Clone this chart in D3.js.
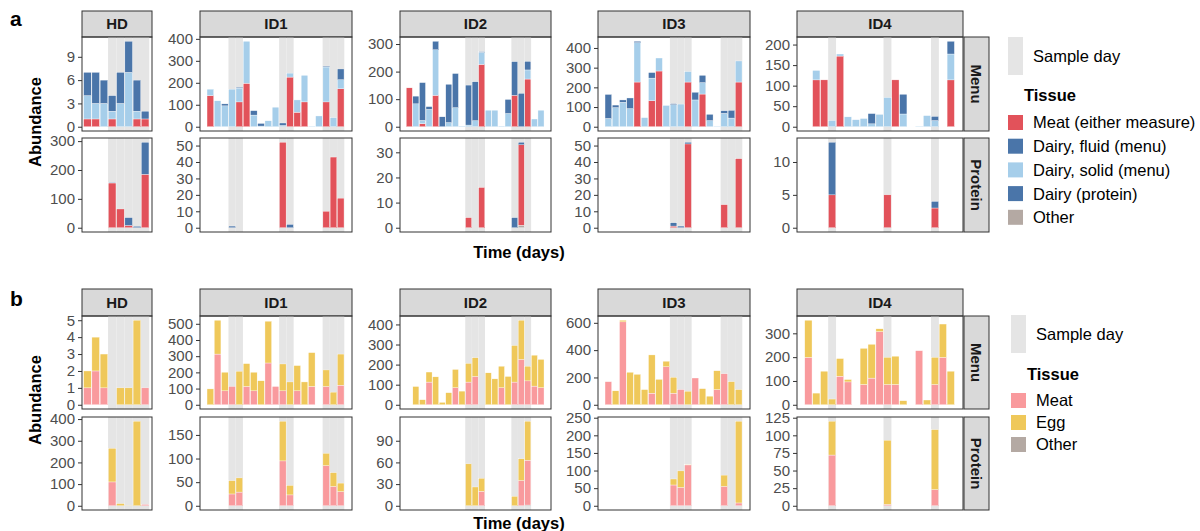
<!DOCTYPE html>
<html>
<head>
<meta charset="utf-8">
<script src="https://cdn.jsdelivr.net/npm/d3@7"></script>
<style>
  body { margin: 0; background: #fff; }
  svg { font-family: "Liberation Sans", Arial, Helvetica, sans-serif; }
</style>
</head>
<body>
<div id="chart"></div>
<script>
// ---- données ----
const panelNames = ["HD", "ID1", "ID2", "ID3", "ID4"];
const dayCount = [8, 19, 21, 19, 19];
const sampleDays = [
  [4, 5, 6, 7, 8],
  [4, 5, 11, 12, 17, 18, 19],
  [10, 11, 12, 17, 18, 19],
  [10, 11, 12, 17, 18, 19],
  [4, 11, 17]
];

// figure a : menu
const aMenuMeat = [
  [1, 1, 0, 1, 0, 0, 1, 1],
  [142, 0, 0, 0, 113, 198, 0, 0, 0, 0, 0, 226, 66, 113, 0, 0, 113, 0, 173],
  [141, 0, 11, 0, 114, 0, 0, 0, 0, 0, 0, 226, 0, 0, 0, 0, 114, 0, 173, 0, 0],
  [0, 0, 0, 0, 227, 0, 132, 283, 0, 0, 0, 227, 0, 166, 0, 0, 0, 0, 227],
  [0, 114, 114, 0, 172, 0, 0, 0, 0, 0, 0, 114, 0, 0, 0, 0, 0, 0, 114]
];
const aMenuSolid = [
  [3, 2, 3, 1, 3, 7, 1, 0],
  [29, 118, 95, 171, 63, 191, 53, 3, 27, 89, 6, 18, 56, 121, 2, 49, 159, 41, 41],
  [0, 83, 12, 63, 165, 0, 15, 69, 2, 6, 22, 44, 60, 60, 2, 48, 0, 0, 33, 28, 60],
  [42, 97, 124, 92, 200, 46, 115, 66, 108, 112, 115, 53, 136, 58, 31, 2, 68, 44, 107],
  [0, 23, 0, 15, 5, 24, 17, 20, 7, 30, 71, 0, 31, 0, 1, 27, 15, 0, 63]
];
const aMenuFluid = [
  [3, 4, 3, 2, 4, 4, 4, 1],
  [0, 0, 9, 0, 4, 0, 20, 12, 0, 0, 11, 0, 0, 0, 0, 0, 4, 0, 49],
  [0, 28, 137, 10, 31, 36, 139, 124, 0, 145, 141, 2, 0, 0, 0, 51, 122, 121, 31, 0, 0],
  [122, 13, 12, 54, 7, 0, 28, 0, 0, 5, 0, 0, 39, 37, 32, 0, 13, 39, 0],
  [0, 0, 0, 0, 0, 0, 0, 0, 25, 0, 0, 0, 48, 0, 0, 0, 10, 0, 31]
];
// figure a : protéine
const aProtOther = [
  [0, 0, 0, 0, 0, 0, 0, 0],
  [0, 0, 0, 0, 0, 0, 0, 0, 0, 0, 0, 0, 0, 0, 0, 0, 0, 0, 0],
  [0, 0, 0, 0, 0, 0, 0, 0, 0, 0, 0, 0, 0, 0, 0, 0, 0, 1, 0, 0, 0],
  [0, 0, 0, 0, 0, 0, 0, 0, 0, 0, 0, 0, 0, 0, 0, 0, 0, 0, 0],
  [0, 0, 0, 0, 0, 0, 0, 0, 0, 0, 0, 0, 0, 0, 0, 0, 0, 0, 0]
];
const aProtMeat = [
  [0, 0, 0, 155, 65, 8, 0, 185],
  [0, 0, 0, 0, 0, 0, 0, 0, 0, 0, 52, 0, 0, 0, 0, 0, 10, 43, 18],
  [0, 0, 0, 0, 0, 0, 0, 0, 0, 4, 0, 16, 0, 0, 0, 0, 0, 32, 0, 0, 0],
  [0, 0, 0, 0, 0, 0, 0, 0, 0, 1, 0, 51, 0, 0, 0, 0, 14, 0, 42],
  [0, 0, 0, 5, 0, 0, 0, 0, 0, 0, 5, 0, 0, 0, 0, 0, 3, 0, 0]
];
const aProtDairy = [
  [0, 0, 0, 2, 0, 27, 5, 111],
  [0, 0, 0, 1, 0, 0, 0, 0, 0, 0, 0, 2, 0, 0, 0, 0, 0, 0, 0],
  [0, 0, 0, 0, 0, 0, 0, 0, 0, 0, 0, 0, 0, 0, 0, 0, 4, 1, 0, 0, 0],
  [0, 0, 0, 0, 0, 0, 0, 0, 0, 2, 1, 1, 0, 0, 0, 0, 0, 0, 0],
  [0, 0, 0, 8, 0, 0, 0, 0, 0, 0, 0, 0, 0, 0, 0, 0, 1, 0, 0]
];

// figure b : menu
const bMenuMeat = [
  [1, 2, 1, 0, 0, 0, 0, 1],
  [0, 313, 86, 113, 0, 113, 86, 0, 258, 113, 86, 0, 86, 0, 113, 0, 113, 0, 121],
  [0, 0, 0, 113, 0, 0, 0, 85, 0, 113, 141, 0, 0, 0, 85, 0, 113, 226, 119, 93, 85],
  [169, 0, 607, 0, 0, 0, 85, 0, 278, 85, 111, 0, 196, 0, 0, 111, 227, 0, 0],
  [199, 0, 0, 0, 120, 96, 0, 85, 112, 307, 85, 85, 0, 0, 227, 0, 85, 199, 0]
];
const bMenuEgg = [
  [1, 2, 2, 0, 1, 1, 5, 0],
  [98, 209, 115, 0, 207, 141, 115, 148, 258, 0, 166, 141, 156, 141, 209, 0, 102, 78, 192],
  [0, 91, 25, 50, 139, 12, 60, 91, 68, 93, 93, 0, 159, 129, 107, 141, 182, 195, 73, 154, 141],
  [0, 102, 12, 238, 223, 111, 280, 186, 41, 116, 0, 99, 0, 118, 63, 138, 0, 169, 111],
  [156, 49, 141, 24, 74, 10, 0, 152, 142, 12, 114, 119, 17, 0, 0, 20, 114, 140, 141]
];
// figure b : protéine
const bProtOther = [
  [0, 0, 0, 0, 0, 0, 0, 0],
  [0, 0, 0, 0, 0, 0, 0, 0, 0, 0, 0, 0, 0, 0, 0, 0, 0, 0, 0],
  [0, 0, 0, 0, 0, 0, 0, 0, 0, 0, 0, 0, 0, 0, 0, 0, 0, 0, 1, 0, 0],
  [0, 0, 0, 0, 0, 0, 0, 0, 0, 0, 0, 0, 0, 0, 0, 0, 0, 0, 0],
  [0, 0, 0, 0, 0, 0, 0, 0, 0, 0, 0, 0, 0, 0, 0, 0, 0, 0, 0]
];
const bProtMeat = [
  [0, 0, 0, 110, 0, 0, 0, 6],
  [0, 0, 0, 25, 29, 0, 0, 0, 0, 0, 95, 23, 0, 0, 0, 0, 85, 41, 30],
  [0, 0, 0, 0, 0, 0, 0, 0, 0, 0, 0, 20, 0, 0, 0, 0, 0, 35, 62, 0, 0],
  [0, 0, 0, 0, 0, 0, 0, 0, 0, 59, 52, 116, 0, 0, 0, 0, 55, 0, 8],
  [0, 0, 0, 72, 0, 0, 0, 0, 0, 0, 2, 0, 0, 0, 0, 0, 23, 0, 0]
];
const bProtEgg = [
  [0, 0, 0, 155, 10, 1, 390, 0],
  [0, 0, 0, 28, 30, 0, 0, 0, 0, 0, 84, 20, 0, 0, 0, 0, 26, 29, 18],
  [0, 0, 0, 0, 0, 0, 0, 0, 0, 58, 26, 18, 0, 0, 0, 0, 13, 30, 54, 0, 0],
  [0, 0, 0, 0, 0, 0, 0, 0, 0, 17, 47, 1, 0, 0, 0, 0, 32, 0, 232],
  [0, 0, 0, 48, 0, 0, 0, 0, 0, 0, 91, 0, 0, 0, 0, 0, 85, 0, 0]
];

// graduations
const aMenuTicks = [[0, 3, 6, 9], [0, 100, 200, 300, 400], [0, 100, 200, 300], [0, 100, 200, 300, 400], [0, 50, 100, 150, 200]];
const aProtTicks = [[0, 100, 200, 300], [0, 10, 20, 30, 40, 50], [0, 10, 20, 30], [0, 10, 20, 30, 40, 50], [0, 5, 10]];
const bMenuTicks = [[0, 1, 2, 3, 4, 5], [0, 100, 200, 300, 400, 500], [0, 100, 200, 300, 400], [0, 200, 400, 600], [0, 100, 200, 300]];
const bProtTicks = [[0, 100, 200, 300, 400], [0, 50, 100, 150], [0, 30, 60, 90], [0, 50, 100, 150, 200, 250], [0, 25, 50, 75, 100, 125]];

const tissueA = ["Meat (either measure)", "Dairy, fluid (menu)", "Dairy, solid (menu)", "Dairy (protein)", "Other"];
const tissueB = ["Meat", "Egg", "Other"];

// ---- couleurs / mise en page ----
const col = {
  meatA: "#E2525A", fluid: "#4A75A9", solid: "#A6CEEA", dairyP: "#4A75A9", other: "#B4A9A3",
  meatB: "#F99A9D", egg: "#EFC85A", shade: "#E5E5E5"
};
const colX = [[82, 152], [200, 352], [400, 551], [598, 750], [797, 963]];
const xDom = [[0.34, 8.83], [-0.43, 20.56], [-0.41, 22.52], [-0.43, 20.56], [-0.44, 20.55]];
const stripX = [964, 989];
const fmtTick = d3.format("~g");

const svg = d3.select("#chart").append("svg")
  .attr("width", 1200).attr("height", 531);

let clipId = 0;

function drawFigure(fig) {
  // étiquette a / b
  svg.append("text").attr("x", 10).attr("y", fig.labelY)
    .attr("font-size", 21).attr("font-weight", "bold").text(fig.label);

  panelNames.forEach((name, i) => {
    const x = d3.scaleLinear().domain(xDom[i]).range(colX[i]);
    const [x0, x1] = colX[i];
    const days = d3.range(1, dayCount[i] + 1);

    // bandeau du haut
    svg.append("rect").attr("x", x0).attr("y", fig.strip[0])
      .attr("width", x1 - x0).attr("height", fig.strip[1] - fig.strip[0])
      .attr("fill", "#D9D9D9").attr("stroke", "#333").attr("stroke-width", 1);
    svg.append("text").attr("x", (x0 + x1) / 2).attr("y", (fig.strip[0] + fig.strip[1]) / 2)
      .attr("dy", "0.36em").attr("text-anchor", "middle")
      .attr("font-size", 15).attr("font-weight", "bold").attr("fill", "#1A1A1A").text(name);

    fig.rows.forEach(row => {
      const table = days.map((d, j) => {
        const o = { day: d };
        row.series.forEach(s => o[s.key] = s.values[i][j]);
        return o;
      });
      const keys = row.series.map(s => s.key);
      const stacked = d3.stack().keys(keys)(table);
      const maxV = d3.max(table, o => d3.sum(keys, k => o[k]));
      const y = d3.scaleLinear().domain([-0.05 * maxV, 1.05 * maxV]).range([row.y[1], row.y[0]]);

      const id = "clip" + (clipId++);
      svg.append("clipPath").attr("id", id).append("rect")
        .attr("x", x0).attr("y", row.y[0]).attr("width", x1 - x0).attr("height", row.y[1] - row.y[0]);
      const g = svg.append("g").attr("clip-path", `url(#${id})`);

      // jours d'échantillonnage
      g.selectAll("rect.shade").data(sampleDays[i]).join("rect")
        .attr("class", "shade")
        .attr("x", d => x(d - 0.5)).attr("width", d => x(d + 0.5) - x(d - 0.5))
        .attr("y", row.y[0]).attr("height", row.y[1] - row.y[0])
        .attr("fill", col.shade);

      // barres empilées
      g.selectAll("g.layer").data(stacked).join("g")
        .attr("class", "layer")
        .attr("fill", (s, k) => row.series[k].color)
        .selectAll("rect").data(s => s.filter(v => v[1] > v[0])).join("rect")
        .attr("x", v => x(v.data.day - 0.46))
        .attr("width", v => x(v.data.day + 0.46) - x(v.data.day - 0.46))
        .attr("y", v => y(v[1]))
        .attr("height", v => y(v[0]) - y(v[1]))
        .attr("stroke", "#fff").attr("stroke-width", 0.35);

      // cadre
      svg.append("rect").attr("x", x0).attr("y", row.y[0])
        .attr("width", x1 - x0).attr("height", row.y[1] - row.y[0])
        .attr("fill", "none").attr("stroke", "#333").attr("stroke-width", 1);

      // axe y
      svg.append("g").attr("transform", `translate(${x0},0)`)
        .call(d3.axisLeft(y).tickValues(row.ticks[i]).tickFormat(fmtTick).tickSize(4).tickPadding(3))
        .call(a => a.select(".domain").remove())
        .call(a => a.selectAll(".tick line").attr("stroke", "#333"))
        .call(a => a.selectAll(".tick text").attr("fill", "#4D4D4D")
          .attr("font-size", 15).attr("font-family", null));
    });
  });

  // bandeaux de droite
  fig.rows.forEach(row => {
    svg.append("rect").attr("x", stripX[0]).attr("y", row.y[0])
      .attr("width", stripX[1] - stripX[0]).attr("height", row.y[1] - row.y[0])
      .attr("fill", "#D9D9D9").attr("stroke", "#333").attr("stroke-width", 1);
    const cx = (stripX[0] + stripX[1]) / 2, cy = (row.y[0] + row.y[1]) / 2;
    svg.append("text").attr("transform", `translate(${cx},${cy}) rotate(90)`)
      .attr("dy", "0.36em").attr("text-anchor", "middle")
      .attr("font-size", 15).attr("font-weight", "bold").attr("fill", "#1A1A1A").text(row.name);
  });

  // titres d'axes
  svg.append("text").attr("transform", `translate(41,${fig.yTitleY}) rotate(-90)`)
    .attr("text-anchor", "middle").attr("font-size", 16.5).attr("font-weight", "bold").text("Abundance");
  svg.append("text").attr("x", 519).attr("y", fig.xTitleY)
    .attr("text-anchor", "middle").attr("font-size", 16.5).attr("font-weight", "bold").text("Time (days)");

  // légende
  const L = fig.legend;
  svg.append("rect").attr("x", L.x).attr("y", L.sampleY[0]).attr("width", 15)
    .attr("height", L.sampleY[1] - L.sampleY[0]).attr("fill", col.shade);
  svg.append("text").attr("x", L.x + 25).attr("y", (L.sampleY[0] + L.sampleY[1]) / 2)
    .attr("dy", "0.36em").attr("font-size", 16.5).text("Sample day");
  svg.append("text").attr("x", L.x + 16).attr("y", L.titleY).attr("dy", "0.36em")
    .attr("font-size", 16.5).attr("font-weight", "bold").text("Tissue");
  const items = svg.append("g").selectAll("g").data(L.labels).join("g")
    .attr("transform", (d, k) => `translate(${L.x},${L.keyY + k * L.step})`);
  items.append("rect").attr("width", 15).attr("height", 15).attr("fill", (d, k) => L.colors[k]);
  items.append("text").attr("x", 25).attr("y", 7.5).attr("dy", "0.36em")
    .attr("font-size", 16.5).text(d => d);
}

drawFigure({
  label: "a", labelY: 26, strip: [11, 37], yTitleY: 122, xTitleY: 258,
  rows: [
    { name: "Menu", y: [37, 131], ticks: aMenuTicks, series: [
      { key: "meat", values: aMenuMeat, color: col.meatA },
      { key: "solid", values: aMenuSolid, color: col.solid },
      { key: "fluid", values: aMenuFluid, color: col.fluid }] },
    { name: "Protein", y: [138, 232], ticks: aProtTicks, series: [
      { key: "other", values: aProtOther, color: col.other },
      { key: "meat", values: aProtMeat, color: col.meatA },
      { key: "dairy", values: aProtDairy, color: col.dairyP }] }
  ],
  legend: { x: 1008, sampleY: [37, 75], titleY: 95, keyY: 115, step: 23.7, labels: tissueA,
    colors: [col.meatA, col.fluid, col.solid, col.dairyP, col.other] }
});

drawFigure({
  label: "b", labelY: 306, strip: [289, 316], yTitleY: 400, xTitleY: 529,
  rows: [
    { name: "Menu", y: [316, 409], ticks: bMenuTicks, series: [
      { key: "meat", values: bMenuMeat, color: col.meatB },
      { key: "egg", values: bMenuEgg, color: col.egg }] },
    { name: "Protein", y: [417, 510], ticks: bProtTicks, series: [
      { key: "other", values: bProtOther, color: col.other },
      { key: "meat", values: bProtMeat, color: col.meatB },
      { key: "egg", values: bProtEgg, color: col.egg }] }
  ],
  legend: { x: 1011, sampleY: [315, 353], titleY: 374, keyY: 393, step: 22, labels: tissueB,
    colors: [col.meatB, col.egg, col.other] }
});
</script>
</body>
</html>
